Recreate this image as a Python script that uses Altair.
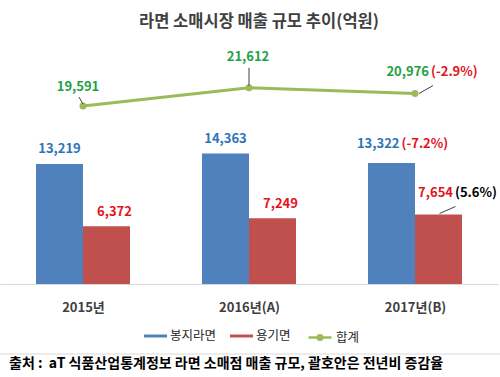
import json
import altair as alt
import pandas as pd

# ---------------- data ----------------
years = ["2015년", "2016년(A)", "2017년(B)"]
series = ["봉지라면", "용기면", "합계"]
bongji = [13219, 14363, 13322]
yonggi = [6372, 7249, 7654]
total = [19591, 21612, 20976]
bongji_chg = ["", "", "(-7.2%)"]
yonggi_chg = ["", "", "(5.6%)"]
total_chg = ["", "", "(-2.9%)"]
colors = ["#4F81BD", "#C0504D", "#9BBB59"]
title_text = "라면 소매시장 매출 규모 추이(억원)"
source_text = "출처 :\u00a0 aT 식품산업통계정보 라면 소매점 매출 규모, 괄호안은 전년비 증감율"

FONT = "Noto Sans CJK KR"
W, H = 498, 227
XD = [-0.5, 2.5]
YD = [0, 25000]
PX = (XD[1] - XD[0]) / W
PY = (YD[1] - YD[0]) / H
BW = 47 * PX

base_df = pd.DataFrame({
    "i": list(range(len(years))),
    "year": years,
    "bongji": bongji,
    "yonggi": yonggi,
    "total": total,
    "bchg": bongji_chg,
    "ychg": yonggi_chg,
    "tchg": total_chg,
    "tname": [series[2]] * len(years),
})

bar_df = pd.DataFrame({
    "i": list(range(len(years))) * 2,
    "series": [series[0]] * len(years) + [series[1]] * len(years),
    "value": bongji + yonggi,
})

xscale = alt.Scale(domain=XD, nice=False, zero=False)
yscale = alt.Scale(domain=YD, nice=False, zero=True)
xaxis = alt.Axis(
    values=list(range(len(years))),
    labelExpr=f"{json.dumps(years, ensure_ascii=False)}[datum.value]",
    title=None, ticks=False, tickSize=0, grid=False,
    domainColor="#D9D9D9", domainWidth=1,
    labelFont=FONT, labelFontSize=13, labelFontWeight="bold",
    labelColor="#404040", labelPadding=17,
)

line_shape = "M-1,0H1M-0.2,0A0.2,0.2,0,1,1,0.2,0A0.2,0.2,0,1,1,-0.2,0Z"
rect_shape = "M-1,-0.13H1V0.13H-1Z"
bar_legend = alt.Legend(
    title=None, orient="none", direction="horizontal",
    legendX=144, legendY=267.5,
    symbolType=rect_shape, symbolSize=529, symbolStrokeWidth=0,
    symbolOpacity=1, labelOffset=3, columnPadding=13,
    labelFont=FONT, labelFontSize=12.5, labelColor="#262626",
)
line_legend = alt.Legend(
    title=None, orient="none", direction="horizontal",
    legendX=307, legendY=267.5,
    symbolType=line_shape, symbolSize=529, symbolStrokeWidth=2.5,
    symbolFillColor=colors[2], symbolOpacity=1, labelOffset=3,
    labelFont=FONT, labelFontSize=12.5, labelColor="#262626",
)

bars = alt.Chart(bar_df).transform_calculate(
    x0=f"datum.series == '{series[0]}' ? datum.i - {BW} : datum.i",
    x1=f"datum.series == '{series[0]}' ? datum.i : datum.i + {BW}",
).mark_bar().encode(
    x=alt.X("x0:Q", scale=xscale, axis=xaxis),
    x2="x1:Q",
    y=alt.Y("value:Q", scale=yscale, axis=None),
    y2=alt.datum(0),
    color=alt.Color("series:N", scale=alt.Scale(domain=series[:2], range=colors[:2]),
                    legend=bar_legend),
)

line = alt.Chart(base_df).mark_line(
    strokeWidth=3, color=colors[2],
    point=alt.OverlayMarkDef(size=25, filled=True, color=colors[2]),
).encode(
    x=alt.X("i:Q", scale=xscale, axis=xaxis),
    y=alt.Y("total:Q", scale=yscale, axis=None),
    stroke=alt.Stroke("tname:N", scale=alt.Scale(domain=series[2:], range=colors[2:]),
                      legend=line_legend),
)


def txt(cond, xexpr, yfield, texpr, color, align, dx, dy, size=13):
    return alt.Chart(base_df).transform_filter(cond).transform_calculate(
        tx=xexpr, tt=texpr
    ).mark_text(
        align=align, baseline="middle", dx=dx, dy=dy, fontSize=size,
        fontWeight="bold", font=FONT, color=color,
    ).encode(
        x=alt.X("tx:Q", scale=xscale, axis=xaxis),
        y=alt.Y(f"{yfield}:Q", scale=yscale, axis=None),
        text="tt:N",
    )


def leader(cond, xexpr, yfield, p1, p2):
    return alt.Chart(base_df).transform_filter(cond).transform_calculate(
        lx1=f"{xexpr} + {p1[0] * PX}",
        lx2=f"{xexpr} + {p2[0] * PX}",
        ly1=f"datum.{yfield} - {p1[1] * PY}",
        ly2=f"datum.{yfield} - {p2[1] * PY}",
    ).mark_rule(color="#404040", strokeWidth=1).encode(
        x=alt.X("lx1:Q", scale=xscale, axis=xaxis),
        x2="lx2:Q",
        y=alt.Y("ly1:Q", scale=yscale, axis=None),
        y2="ly2:Q",
    )


BLUE_T = "#2E74B5"
RED_T = "#E3131B"
GREEN_T = "#1FA045"
bx = f"datum.i - {BW / 2}"
rx = f"datum.i + {BW / 2}"
tx = "datum.i"
fmt = lambda f: f"format(datum.{f}, ',')"

labels = [
    txt("datum.bchg == ''", bx, "bongji", fmt("bongji"), BLUE_T, "center", 0, -15),
    txt("datum.bchg != ''", bx, "bongji", fmt("bongji"), BLUE_T, "right", 8, -19),
    txt("datum.bchg != ''", bx, "bongji", "datum.bchg", RED_T, "left", 10, -19),
    txt("datum.ychg == ''", rx, "yonggi", fmt("yonggi"), RED_T, "center", 8, -14),
    txt("datum.ychg != ''", rx, "yonggi", fmt("yonggi"), RED_T, "right", 14.5, -22),
    txt("datum.ychg != ''", rx, "yonggi", "datum.ychg", "#000000", "left", 16.5, -22),
    txt("datum.i == 0", tx, "total", fmt("total"), GREEN_T, "center", -5, -19),
    txt("datum.i == 1", tx, "total", fmt("total"), GREEN_T, "center", -1, -31),
    txt("datum.i == 2", tx, "total", fmt("total"), GREEN_T, "right", 14, -22),
    txt("datum.i == 2", tx, "total", "datum.tchg", RED_T, "left", 16, -22),
]

leaders = [
    leader("datum.i == 0", tx, "total", (0, -2), (-4, -9)),
    leader("datum.i == 1", tx, "total", (0, -2), (0, -20)),
    leader("datum.i == 2", tx, "total", (4, 0), (18, -8)),
    leader("datum.ychg != ''", rx, "yonggi", (1, -1), (17, -8)),
]

sep = alt.Chart(alt.Data(values=[{"a": 1}])).mark_rule(
    color="#D9D9D9", strokeWidth=1
).encode(x=alt.value(0), x2=alt.value(500), y=alt.value(297))

source = alt.Chart(alt.Data(values=[{"a": 1}])).mark_text(
    align="left", baseline="middle", font=FONT, fontSize=14,
    fontWeight="bold", color="#000000",
).encode(x=alt.value(9), y=alt.value(307), text=alt.value(source_text))

chart = alt.layer(bars, line, *leaders, *labels, sep, source).properties(
    width=W, height=H,
    autosize=alt.AutoSizeParams(type="none"),
    padding={"left": 0, "top": 57, "right": 2, "bottom": 93},
    title=alt.TitleParams(
        text=title_text, font=FONT, fontSize=16.5, fontWeight="bold",
        color="#404040", anchor="middle", dx=10, offset=20,
    ),
).configure(background="white").configure_view(stroke=None)

chart.save("out.html", embed_options={"renderer": "svg", "actions": False})
